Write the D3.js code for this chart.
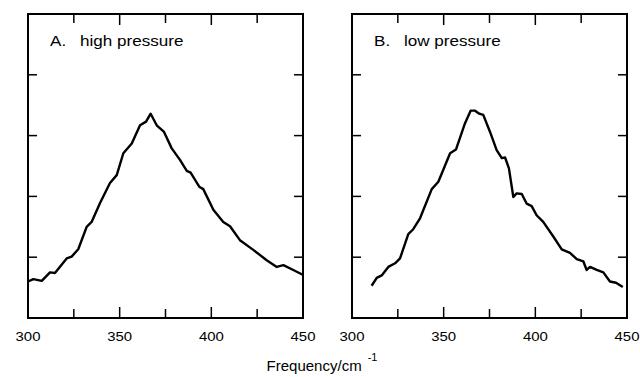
<!DOCTYPE html>
<html><head><meta charset="utf-8">
<script src="https://cdn.jsdelivr.net/npm/d3@7"></script>
<style>body{margin:0;background:#fff}svg{display:block}text{font-family:"Liberation Sans",Arial,sans-serif;fill:#000}</style>
</head><body><svg id="c" width="640" height="377"></svg>
<script>
const xTicks = [300, 350, 400, 450];
const xMinorTicks = [325, 375, 425];
const yTicks = [1, 2, 3, 4];
const panelLetters = ["A.", "B."];
const panelLabels = ["high pressure", "low pressure"];

const freqA = [300,302.9,307.5,312,314.7,321.1,323.8,327.4,332,334.7,339.3,344.7,348.4,352,356.6,361.1,364.4,366.9,370.2,374.2,378.4,382.9,386.6,388.7,393.4,395.6,401.1,406.5,410.2,415.6,422.9,430.2,435.7,439.3,444.7,449.3,450];
const intA  = [0.60,0.64,0.61,0.75,0.74,0.98,1.01,1.13,1.50,1.58,1.89,2.22,2.35,2.71,2.87,3.17,3.23,3.36,3.17,3.06,2.79,2.60,2.42,2.39,2.16,2.12,1.78,1.58,1.51,1.28,1.12,0.95,0.84,0.87,0.79,0.72,0.71];

const freqB = [310.7,313.5,316.2,319.8,323.5,326.2,330.7,333.4,337.1,343.5,347.1,353.5,356.7,361.6,364.7,367.1,369.4,371.6,375.3,378.9,381.7,383.5,385.6,388.0,389.8,392.6,395.3,398.0,400.7,404.3,409.8,414.4,418.9,422.6,426.2,428.0,429.8,433.5,437.1,440.7,444.0,447.7];
const intB  = [0.53,0.66,0.70,0.84,0.90,0.98,1.38,1.46,1.64,2.12,2.24,2.71,2.77,3.20,3.41,3.41,3.36,3.34,3.06,2.76,2.63,2.64,2.46,1.99,2.05,2.04,1.88,1.84,1.69,1.58,1.34,1.13,1.07,0.97,0.93,0.79,0.84,0.79,0.75,0.60,0.58,0.51];

const svg = d3.select("#c");
const plotTop = 14, plotBottom = 318;
const panels = [
  {x0: 28, x1: 303, f: freqA, v: intA, letter: panelLetters[0], label: panelLabels[0]},
  {x0: 352, x1: 627, f: freqB, v: intB, letter: panelLetters[1], label: panelLabels[1]}
];
const y = d3.scaleLinear().domain([0, 5]).range([plotBottom, plotTop]);

function stext(g, x, yy, size, sx, anchor, str) {
  return g.append("text").attr("transform", `translate(${x},${yy}) scale(${sx},1)`)
    .attr("font-size", size).attr("text-anchor", anchor).text(str);
}

panels.forEach(p => {
  const x = d3.scaleLinear().domain([300, 450]).range([p.x0, p.x1]);
  const g = svg.append("g");
  const major = 11, minor = 9, yt = 9;
  [...xTicks.slice(1,-1), ...xMinorTicks].forEach(t => {
    const L = xTicks.includes(t) ? major : minor;
    g.append("line").attr("x1", x(t)).attr("x2", x(t)).attr("y1", plotBottom).attr("y2", plotBottom - L).attr("stroke", "#000").attr("stroke-width", 1.5);
    g.append("line").attr("x1", x(t)).attr("x2", x(t)).attr("y1", plotTop).attr("y2", plotTop + L).attr("stroke", "#000").attr("stroke-width", 1.5);
  });
  yTicks.forEach(t => {
    g.append("line").attr("x1", p.x0).attr("x2", p.x0 + yt).attr("y1", y(t)).attr("y2", y(t)).attr("stroke", "#000").attr("stroke-width", 1.5);
    g.append("line").attr("x1", p.x1).attr("x2", p.x1 - yt).attr("y1", y(t)).attr("y2", y(t)).attr("stroke", "#000").attr("stroke-width", 1.5);
  });
  g.append("rect").attr("x", p.x0).attr("y", plotTop).attr("width", p.x1 - p.x0).attr("height", plotBottom - plotTop)
    .attr("fill", "none").attr("stroke", "#000").attr("stroke-width", 2);
  xTicks.forEach(t => stext(g, x(t), 340.5, 13, 1.15, "middle", t));
  const data = p.f.map((f, i) => [f, p.v[i]]);
  g.append("path").datum(data)
    .attr("d", d3.line().x(d => x(d[0])).y(d => y(d[1])).curve(d3.curveLinear))
    .attr("fill", "none").attr("stroke", "#000").attr("stroke-width", 2.4).attr("stroke-linejoin", "round");
  stext(g, p.x0 + 22, 45.5, 14, 1.22, "start", p.letter);
  stext(g, p.x0 + 52, 45.5, 14, 1.22, "start", p.label);
});

const t = svg.append("text").attr("transform", "translate(322,371)").attr("text-anchor", "middle").attr("font-size", 15);
t.append("tspan").text("Frequency/cm");
t.append("tspan").attr("dx", 6).attr("dy", -10).attr("font-size", 11).text("-1");
</script></body></html>
